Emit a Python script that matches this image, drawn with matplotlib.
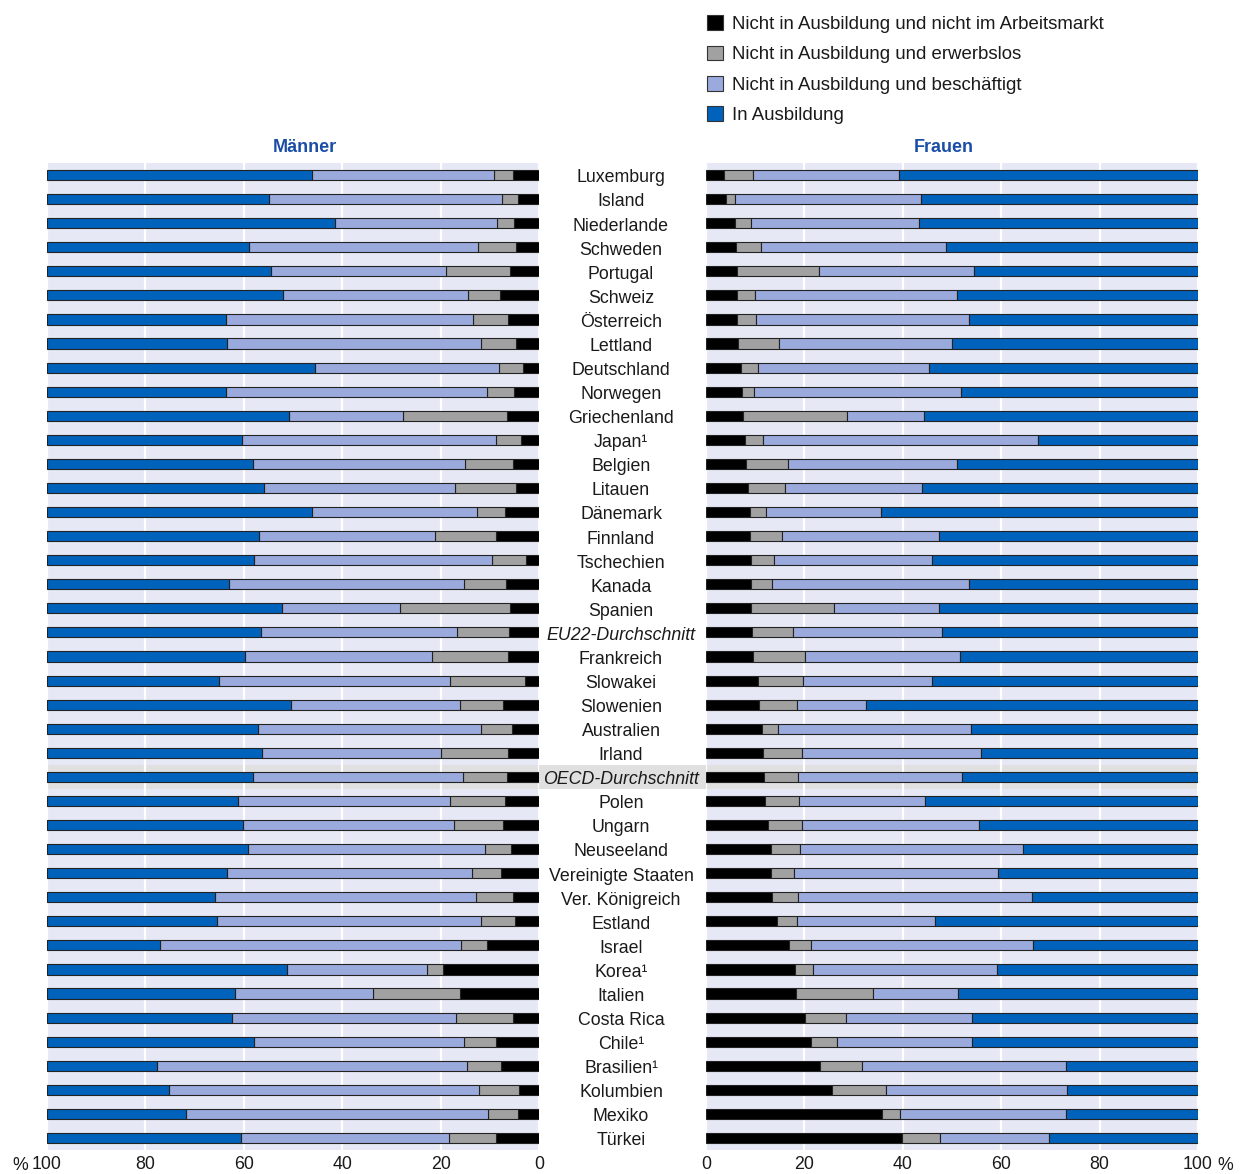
import numpy as np
import matplotlib
matplotlib.use('Agg')
import matplotlib.pyplot as plt
import matplotlib.transforms as mtransforms
from matplotlib.patches import Patch, Rectangle

plt.rcParams['font.family'] = ['Liberation Sans', 'DejaVu Sans']

countries = ['Luxemburg', 'Island', 'Niederlande', 'Schweden', 'Portugal', 'Schweiz',
             'Österreich', 'Lettland', 'Deutschland', 'Norwegen', 'Griechenland',
             'Japan¹', 'Belgien', 'Litauen', 'Dänemark', 'Finnland', 'Tschechien',
             'Kanada', 'Spanien', 'EU22-Durchschnitt', 'Frankreich', 'Slowakei',
             'Slowenien', 'Australien', 'Irland', 'OECD-Durchschnitt', 'Polen',
             'Ungarn', 'Neuseeland', 'Vereinigte Staaten', 'Ver. Königreich',
             'Estland', 'Israel', 'Korea¹', 'Italien', 'Costa Rica', 'Chile¹',
             'Brasilien¹', 'Kolumbien', 'Mexiko', 'Türkei']

# Männer
m_inactive = [5.2, 4.3, 5.1, 4.7, 5.8, 7.9, 6.3, 4.7, 3.3, 5.1, 6.6, 3.7, 5.2, 4.7,
              7.0, 8.8, 2.6, 6.7, 5.9, 6.1, 6.2, 2.9, 7.3, 5.5, 6.2, 6.6, 7.0, 7.3,
              5.6, 7.8, 5.2, 4.8, 10.6, 19.5, 16.1, 5.2, 8.7, 7.8, 4.1, 4.3, 8.7]
m_unemployed = [4.0, 3.2, 3.5, 7.7, 13.2, 6.5, 7.1, 7.1, 4.8, 5.5, 21.0, 5.0, 9.9, 12.4,
                5.7, 12.3, 7.0, 8.6, 22.4, 10.5, 15.5, 15.1, 8.8, 6.3, 13.8, 8.8, 11.0,
                10.0, 5.4, 5.9, 7.6, 7.0, 5.2, 3.2, 17.7, 11.7, 6.6, 6.8, 8.0, 6.0, 9.6]
m_employed = [36.9, 47.3, 32.8, 46.5, 35.4, 37.7, 50.3, 51.7, 37.5, 53.0, 23.2, 51.7,
              43.1, 38.8, 33.4, 35.8, 48.3, 47.8, 23.9, 39.9, 38.0, 47.1, 34.4, 45.3,
              36.3, 42.8, 43.2, 42.8, 48.1, 49.8, 53.1, 53.6, 61.2, 28.6, 28.0, 45.5,
              42.6, 63.1, 63.2, 61.5, 42.2]
m_education = [53.9, 45.2, 58.6, 41.1, 45.6, 47.9, 36.3, 36.5, 54.4, 36.4, 49.2, 39.6,
               41.8, 44.1, 53.9, 43.1, 42.1, 36.9, 47.8, 43.5, 40.3, 34.9, 49.5, 42.9,
               43.7, 41.8, 38.8, 39.9, 40.9, 36.5, 34.1, 34.6, 23.0, 48.7, 38.2, 37.6,
               42.1, 22.3, 24.7, 28.2, 39.5]

# Frauen
f_inactive = [3.7, 4.1, 5.9, 6.1, 6.2, 6.2, 6.4, 6.6, 7.2, 7.4, 7.6, 7.9, 8.1, 8.6,
              8.9, 9.0, 9.1, 9.1, 9.2, 9.4, 9.5, 10.6, 10.8, 11.4, 11.6, 11.8, 11.9,
              12.7, 13.3, 13.3, 13.5, 14.4, 16.9, 18.0, 18.3, 20.1, 21.3, 23.1, 25.6,
              35.7, 39.9]
f_unemployed = [5.8, 1.7, 3.2, 5.1, 16.8, 3.8, 3.8, 8.3, 3.4, 2.4, 21.1, 3.6, 8.5, 7.4,
                3.2, 6.4, 4.8, 4.4, 16.9, 8.3, 10.7, 9.2, 7.6, 3.2, 8.0, 6.8, 7.1, 6.9,
                5.9, 4.6, 5.1, 4.0, 4.4, 3.8, 15.6, 8.3, 5.4, 8.6, 11.0, 3.7, 7.7]
f_employed = [29.8, 38.0, 34.1, 37.5, 31.5, 41.0, 43.3, 35.2, 34.8, 42.1, 15.6, 56.0,
              34.4, 28.0, 23.4, 31.9, 32.1, 40.0, 21.2, 30.3, 31.4, 26.2, 14.2, 39.2,
              36.3, 33.5, 25.5, 35.8, 45.2, 41.5, 47.7, 28.2, 45.2, 37.3, 17.4, 25.7,
              27.3, 41.4, 36.8, 33.7, 22.1]
f_education = [60.7, 56.2, 56.8, 51.3, 45.5, 49.0, 46.5, 49.9, 54.6, 48.1, 55.7, 32.5,
               49.0, 56.0, 64.5, 52.7, 54.0, 46.5, 52.7, 52.0, 48.4, 54.0, 67.4, 46.2,
               44.1, 47.9, 55.5, 44.6, 35.6, 40.6, 33.7, 53.4, 33.5, 40.9, 48.7, 45.9,
               46.0, 26.9, 26.6, 26.9, 30.3]

labels = ['Nicht in Ausbildung und nicht im Arbeitsmarkt',
          'Nicht in Ausbildung und erwerbslos',
          'Nicht in Ausbildung und beschäftigt',
          'In Ausbildung']
colors = ['#000000', '#a0a1a0', '#9aaadc', '#0062bb']
bg = '#e6e8f5'
hl = '#e0e0e0'
fs = 12.8
txt = '#1a1a1a'

W, H = 1241, 1174
fig = plt.figure(figsize=(W / 100, H / 100), dpi=100)
ax_m = fig.add_axes([47 / W, 1 - 1150 / H, 492 / W, 987 / H])
ax_f = fig.add_axes([706 / W, 1 - 1150 / H, 492 / W, 987 / H])

n = len(countries)
y = np.arange(n)
i_oecd = countries.index('OECD-Durchschnitt')

for ax, data in [(ax_m, [m_inactive, m_unemployed, m_employed, m_education]),
                 (ax_f, [f_inactive, f_unemployed, f_employed, f_education])]:
    ax.set_facecolor(bg)
    ax.axhspan(i_oecd - 0.5, i_oecd + 0.5, color=hl, zorder=0.5, lw=0)
    left = np.zeros(n)
    for vals, c, lab in zip(data, colors, labels):
        vals = np.array(vals)
        ax.barh(y, vals, left=left, height=0.42, color=c, edgecolor='#222222',
                linewidth=0.8, zorder=2, label=lab)
        left += vals
    ax.set_ylim(n - 0.5, -0.5)
    ax.set_yticks([])
    ax.set_xticks([0, 20, 40, 60, 80, 100])
    ax.xaxis.grid(True, color='white', linewidth=1.6, zorder=1)
    ax.set_axisbelow(True)
    ax.tick_params(axis='x', length=0, labelsize=fs, pad=4.5, colors=txt)
    for s in ax.spines.values():
        s.set_visible(False)

ax_m.set_xlim(100, 0)
ax_f.set_xlim(0, 100)

# % signs next to the 100 labels
fig.text(12 / W, 1 - 1165 / H, '%', fontsize=fs, ha='left', va='center', color=txt)
fig.text(1233 / W, 1 - 1165 / H, '%', fontsize=fs, ha='right', va='center', color=txt)

# highlight band between panels for OECD row
trans = mtransforms.blended_transform_factory(fig.transFigure, ax_m.transData)
fig.patches.append(Rectangle((539 / W, i_oecd - 0.5), 167 / W, 1.0, transform=trans,
                             facecolor=hl, edgecolor='none', zorder=0))

for i, c in enumerate(countries):
    style = 'italic' if 'Durchschnitt' in c else 'normal'
    fig.text(621 / W, i + 0.12, c, transform=trans, ha='center', va='center',
             fontsize=fs, style=style, color=txt)

fig.text(305 / W, 1 - 147 / H, 'Männer', ha='center', va='center', fontsize=13,
         fontweight='bold', color='#1a4ea6')
fig.text(944 / W, 1 - 147 / H, 'Frauen', ha='center', va='center', fontsize=13,
         fontweight='bold', color='#1a4ea6')

handles = [Patch(facecolor=c, edgecolor='#333333', linewidth=0.8) for c in colors]
fig.legend(handles, labels, loc='upper left', bbox_to_anchor=(700 / W, 1 - 8 / H),
           frameon=False, fontsize=13.4, handlelength=0.85, handleheight=0.85,
           handletextpad=0.45, labelspacing=0.66, borderaxespad=0, labelcolor=txt)

fig.savefig('out.png', dpi=100)
